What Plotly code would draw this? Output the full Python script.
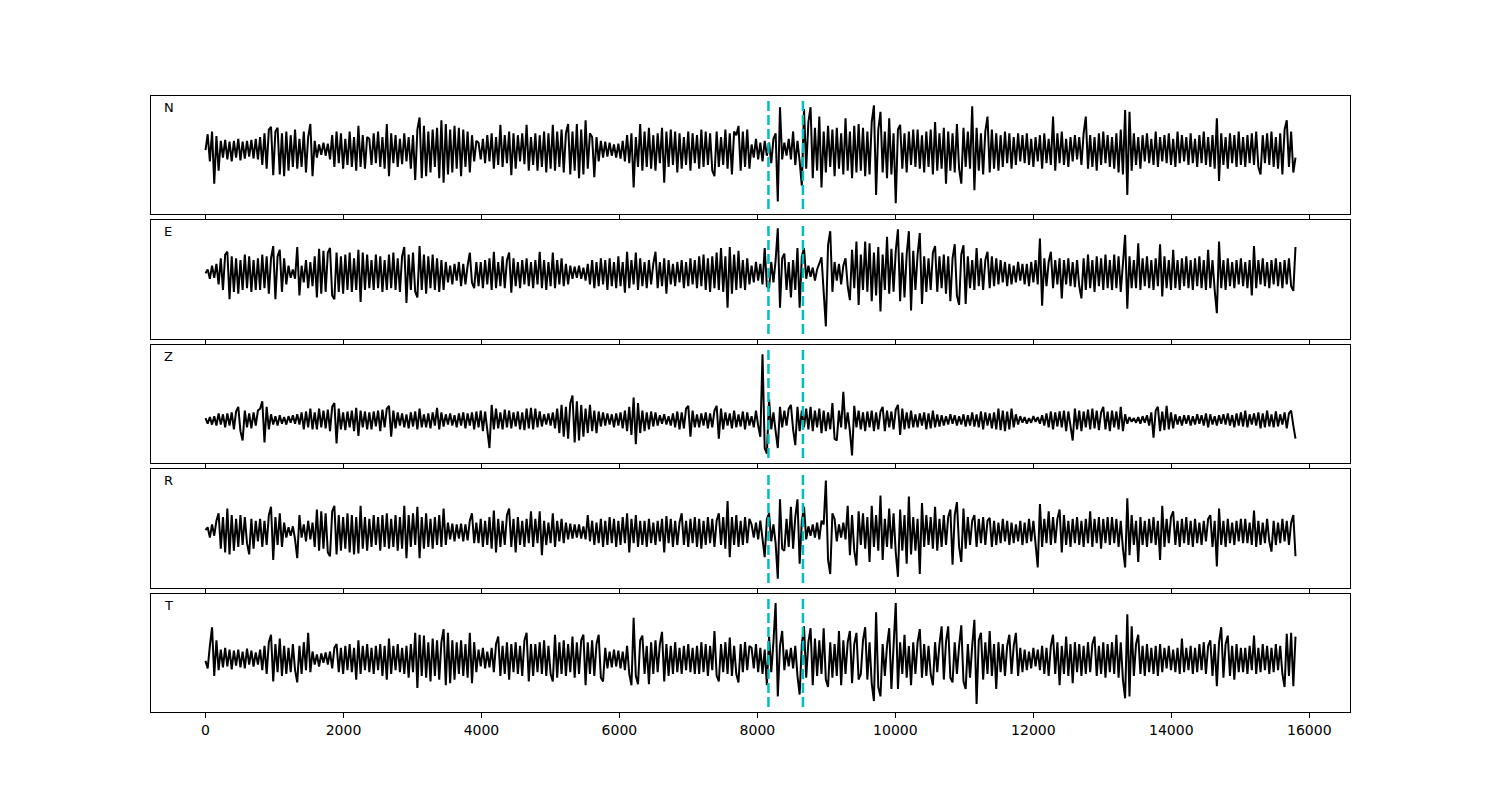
import numpy as np
import plotly.graph_objects as go

# ---------------- data ----------------
COMPONENTS = ["N", "E", "Z", "R", "T"]
T_END = 15800                     # last sample index of each trace
PICKS = [8160, 8660]              # the two dashed cyan markers
XTICKS = [0, 2000, 4000, 6000, 8000, 10000, 12000, 14000, 16000]

N_TRACE = [
    0, 17, -12, 20, -36, 15, -22, 10, -8, 11, -10, 9, -12, 10, -8, 12, -11, 9, -9, 10, -7, 11, -9, 12, -10,
    14, -16, 18, -20, 22, 25, -27, 20, 24, -26, 18, -28, 20, -22, 16, -18, 22, -20, 12, -18, 20, -24, 14, 28, -28,
    10, -8, 6, -5, 8, -6, 7, -10, 16, -18, 20, -14, 18, -20, 12, -16, 20, -18, 14, -22, 26, -18, 16, -20, 14,
    12, -16, 18, -14, 20, -18, 14, -20, 28, -28, 18, -14, 16, -18, 12, -15, 18, -12, 14, -20, 16, -32, 22, 35, -30,
    26, -28, 20, -24, 22, -18, 24, -30, 32, -35, 28, -26, 22, -24, 26, -20, 24, -28, 22, -18, 20, -24, 16, -12, 10,
    8, -10, 12, -14, 16, -12, 18, -20, 14, -16, 27, -18, 16, -14, 20, -27, 18, -20, 16, -12, 18, -15, 27, -22, 14,
    -16, 18, -22, 16, -18, 20, -24, 18, -20, 27, -22, 20, -18, 22, -24, 18, 28, -26, 20, -22, 28, -30, 22, -26, 32,
    -20, 18, 14, -29, 14, -12, 10, -8, 9, -7, 8, -6, 6, -8, 7, -9, 10, -12, 16, -14, 18, -40, 14, -18, 28,
    -22, 20, -18, 24, -20, 16, -22, 18, -14, 24, -35, 20, -18, 22, -16, 20, -24, 18, -20, 14, -16, 20, -22, 18, -14,
    16, -20, 22, -18, 20, -16, 18, -22, -28, 20, -18, 14, -16, 22, -20, 18, -26, 20, 16, 26, -22, 20, -18, 22, -20,
    6, -8, 12, -10, 8, -12, 10, -6, 8, -14, 12, 18, -55, 46, -10, 8, -6, 12, -10, 20, -16, 10, -12, -38, 44,
    -20, 30, 46, -30, 24, -22, 36, -40, 20, -24, 26, -18, 22, -28, 24, -20, 18, -26, 34, -22, 20, -30, 26, -24, 28,
    -22, 24, -28, 20, -26, 30, 48, -48, 22, 41, -24, 20, -30, 34, -26, 18, -57, 22, 27, -20, 18, -24, 20, -16, 22,
    -18, 22, -20, 16, -24, 20, -18, 22, -26, 30, -22, 18, -20, 24, -36, 20, -22, 18, -24, 28, -20, -36, 24, -18, 20,
    -20, 47, -43, 24, -22, 18, -26, 20, 36, -24, 22, -20, 18, -22, 16, -18, 20, -14, 18, -20, 14, -16, 18, -12, 16,
    -14, 18, -16, 12, -18, 14, -12, 16, -20, 18, -14, 12, -16, 36, -22, 18, -14, 20, -16, 12, -18, 14, -12, 16, -10,
    14, -16, 18, 36, -20, 16, -18, 14, -22, 18, -16, 20, -14, 16, -18, 14, -20, 18, -24, 22, -26, 43, -48, 41, -22,
    18, -16, 14, -20, 16, -12, 18, -14, 12, -16, 20, -18, 14, -12, 16, -14, 18, -16, 12, -18, 20, -14, 16, -12, 14,
    -16, 18, -14, 12, -18, 16, -14, 20, -16, 14, -18, 16, -20, 34, -33, 18, -16, 14, -20, 18, -14, 16, -18, 20, -16,
    14, -18, 16, -14, 18, -16, 20, -18, -26, 16, -14, 18, -16, 20, -18, 14, -20, 18, -26, 22, 32, -18, 20, -24, -8,
]

E_TRACE = [
    0, 4, -6, 8, -5, 10, -12, 16, -18, 20, 23, -28, 18, -20, 16, -22, 14, -18, 20, -16, 18, -20, 14, -18, 16,
    -18, 20, -16, 18, -22, 16, 29, -28, 18, 25, -20, 16, -12, 8, -5, 4, -6, 28, -24, 8, -10, 14, -16, 12, -14,
    18, -26, 26, -22, 24, -20, 22, 27, -24, -28, 22, -20, 18, -22, 20, -18, 22, -20, 16, -18, 25, -31, 22, -18, 20,
    -16, 14, -18, 20, -16, 18, -20, 14, -18, 20, -16, 22, -18, 16, -20, 18, 28, -32, 20, -18, 22, -20, -26, 29, -18,
    20, -22, 18, -16, 20, -18, 16, -20, 14, -18, 12, -10, 8, -12, 10, -8, 12, -14, 10, -12, 8, 22, -10, -16, 12,
    -14, 12, -16, 14, -12, 16, -18, 23, -16, 12, -14, 18, -16, 14, 22, -21, 16, -14, 12, -16, 14, -12, 16, -14, 12,
    -16, 14, -12, 23, -16, 14, -18, 12, -14, 22, -16, 14, -12, 16, -14, 10, -12, 8, -6, 7, -5, 8, -6, 6, -8,
    10, -12, 14, -16, 12, -14, 16, -12, 14, -18, 16, -14, 12, -16, 18, -14, 12, -21, 23, -16, 14, -12, 22, -18, 16,
    -14, 12, -16, 14, -12, 10, 23, -16, 12, -14, 16, -22, 14, -12, 10, -14, 12, -10, 14, -16, 12, -14, 16, -12, 14,
    -16, 18, -14, 20, -18, 16, -20, 18, -16, 22, -18, 27, -20, 18, -37, 28, -22, 20, -18, 24, -16, 14, -18, 16, -12,
    8, -10, 12, -8, 10, -12, 27, -14, -16, 12, -10, 14, 48, -37, 16, 21, -18, 12, -26, 14, -18, 27, -37, 18, 27,
    -6, 8, -4, 6, -8, 4, 10, 17, -20, -57, 30, 45, -20, 12, -8, 10, -12, 8, 16, -14, -29, 25, -16, 34, -34,
    20, -18, 34, -20, 32, -30, 22, -24, 28, -41, 20, -18, 39, -22, 26, -20, 24, 47, -30, 22, -26, 20, 45, -40, 24,
    -18, 20, 43, -33, 18, -20, 16, -18, 22, 29, -20, 18, -16, 20, -22, 18, -30, 16, 31, -24, -34, 20, 30, -33, 18,
    -16, 14, -18, 27, -14, 16, -18, 14, 23, -16, 18, -14, 16, -12, 14, -10, 12, -14, 10, -12, 8, -10, 12, -8, 10,
    -12, 10, -14, 12, -10, 14, -12, 37, -35, 16, -14, 12, 23, -16, 14, -12, 16, -27, 14, -12, 16, -14, 12, -15, 14,
    -14, -27, 16, -18, 20, -16, 14, -20, 18, -14, 16, -18, 20, -16, 14, -18, 20, -16, 18, -20, 16, 41, -38, 18, -16,
    14, -16, 32, -18, 16, -14, 18, -16, 14, -18, 16, -14, 31, -25, 18, -16, 14, -18, 25, -16, 14, -18, 16, -14, 18,
    -16, 14, -18, 16, -14, 18, -16, 14, -18, 25, -16, 14, -18, -43, 34, -16, 14, -18, 16, -14, 12, -16, 14, -12, 16,
    -14, 12, -16, 14, -24, 29, -16, 14, -12, 16, -14, 12, -16, 14, -12, 16, -14, 12, -16, 14, -12, 16, -14, -19, 28,
]

Z_TRACE = [
    2, -4, 3, -5, 4, -6, 7, -5, 6, -8, 7, -6, 8, -10, 9, 14, -12, -22, 10, -8, 7, -9, 8, -6, 10,
    12, 20, -24, 14, -10, 6, -5, 4, -6, 5, -4, 3, -5, 4, -3, 5, -4, 6, -5, 8, -10, 9, -8, 12, -10,
    8, -10, 12, -8, 10, -9, 11, -12, 14, 18, -25, 12, -10, 8, -11, 9, -8, 10, -12, 13, -17, 10, -8, 9, -10,
    8, -10, 9, -7, 10, -12, 11, -8, 12, 15, -18, 10, -9, 8, -6, 7, -8, 6, -9, 8, -7, 9, -10, 12, -8,
    6, -8, 7, -9, 8, -6, 13, -10, 8, -7, 6, -5, 7, -6, 5, -8, 7, -6, 8, -9, 7, -6, 8, -10, 9,
    -8, 10, -12, 9, -14, -30, 16, -10, 12, -9, 8, -10, 11, -8, 10, -9, 8, -7, 9, -10, 8, -11, 12, -9, 13,
    -10, 12, -8, 9, -7, 6, -5, 7, -6, 8, -9, 12, -14, 16, -18, 14, -20, 18, 26, -24, 20, -22, 16, -18, 12,
    -14, 16, -12, 10, -14, 9, -7, 8, -6, 7, -5, 6, -8, 7, -6, 8, -9, 10, -12, 14, -16, 24, -26, 18, -14,
    10, -12, 8, -10, 9, -7, 8, -6, 5, -4, 6, -5, 4, -6, 7, -8, 9, -10, 8, -9, 12, 15, -18, 10, -8,
    6, -8, 7, -6, 8, -9, 7, -8, 10, 15, -20, 12, -10, 8, -6, 7, -9, 10, -8, 6, -7, 9, -10, 8, -6,
    4, -8, 10, -6, -18, 70, -30, -36, 22, -10, 8, -12, -30, 14, -8, 10, -6, 12, 16, -10, -27, 14, -12, 10, -8,
    12, -10, 14, -12, 10, -8, 12, -14, 10, -12, 8, -10, 18, -20, -22, 10, -8, 30, -10, 8, -12, -38, 15, -8, 10,
    -10, 8, -12, 9, -8, 10, -12, 8, -10, 9, 14, -12, 10, -8, 9, -10, 11, 16, -16, 12, -10, 8, -9, 10, -8,
    6, -8, 7, -6, 8, -10, 7, -9, 10, -8, 6, -7, 5, -6, 4, -5, 6, -4, 5, -6, 4, -5, 6, -7, 5,
    -6, 8, -7, 6, -8, 9, -10, 8, -6, 7, -9, 8, -10, 12, -11, 10, -12, 9, -10, 12, -8, 6, -5, 4, -3,
    3, -4, 2, -3, 4, -2, 3, -4, 5, -6, 7, -8, 9, -10, 8, -7, 9, -8, 10, -12, 9, -8, -22, 12, -10,
    10, -12, 9, -8, 11, -10, 12, -9, 10, -11, 8, 14, -10, 9, -12, 10, -8, 9, -10, 14, -12, 6, -4, 3, -2,
    2, -3, 3, -4, 4, -3, 5, -6, 8, -19, 10, 14, -12, 9, -11, 15, -10, 8, -9, 6, -5, 4, -6, 5, -4,
    5, -6, 4, -5, 6, -4, 5, -6, 7, -8, 6, -5, 4, -6, 5, -4, 6, -5, 7, -6, 5, -8, 7, -6, 8,
    -7, 10, -8, 6, -5, 7, -6, 8, -9, 7, -8, 10, -7, 6, -8, 9, -7, 6, -5, 8, -9, 7, 10, -6, -20,
]

R_TRACE = [
    2, 5, -6, 8, -4, 12, 20, -18, 16, -22, 25, -24, 18, -20, 14, -16, 18, -14, 16, -12, -24, 14, -18, 12, -10,
    14, -16, 12, -14, 18, 27, -30, 16, -14, 20, -16, 10, -6, 5, -4, 6, -8, -28, 18, -6, 8, -10, 12, -8, 10,
    -16, 24, -20, 22, -18, 20, -22, -26, 22, 28, -24, 18, -20, 16, -18, 20, -22, 18, -24, 16, -23, 28, -18, 16, -20,
    14, -16, 18, -14, 16, -20, 18, -16, 20, -18, 14, -16, 18, -20, 16, -18, 28, -28, 18, -16, 20, -14, 27, -28, 16,
    -18, 20, -16, 14, -18, 16, -14, 18, -16, 25, -14, 10, -8, 9, -10, 8, -7, 9, -10, 8, -9, 12, 20, -12, 10,
    -12, 14, -16, 12, -14, 16, -18, 23, -22, 14, -16, 12, -14, 18, 25, -16, 14, -22, 16, -14, 12, -16, 14, -12, 22,
    -16, 14, -12, 22, -25, 12, -14, 10, -12, 20, -16, 12, -10, 14, -12, 10, -8, 9, -7, 8, -6, 8, -7, 6, -8,
    18, -10, 12, -14, 10, -12, 14, -16, 12, -14, 16, -12, 14, -16, 12, -14, 16, -12, 20, -22, 14, -12, 18, -16, 12,
    -14, 12, -16, 14, -12, 10, -14, 12, -10, 14, -22, 17, -12, 14, -16, 12, -14, 10, 20, -14, 12, -16, 14, -12, 16,
    -16, 14, -18, 12, -14, 16, -12, 14, -16, 12, 20, -14, 16, -18, 33, -27, 16, -14, 18, -16, 12, -14, 16, -12, 14,
    8, -6, 10, -8, 12, -10, -27, 14, 20, -10, 8, -12, -50, 35, -18, -20, 14, -16, 27, -18, 16, 35, -34, 12, 27,
    -8, 6, -4, 8, -6, 10, -8, 12, 8, 55, -30, -45, 20, 14, -10, 8, -6, 10, -8, 28, -25, 18, -20, -36, 22,
    -14, 20, -18, 16, -32, 28, -16, 18, -20, 39, -30, 14, -16, 25, -18, 20, -22, -48, 24, -20, 18, -34, 38, -24, 16,
    -20, 14, -45, 31, -16, 18, -14, 16, -18, 27, -20, 14, -16, 18, -14, 16, 24, -35, 18, 32, -16, -32, 25, -18, 16,
    -14, 12, 18, -16, 14, -12, 16, -14, 12, 15, -16, 12, -14, 10, -12, 14, -10, 12, -14, 10, -12, 8, -10, 12, -14,
    10, -12, 14, -10, 12, -14, -38, 30, -16, 14, -12, 22, -14, 16, -12, 14, 24, -22, 18, -14, 12, -16, 14, -12, 16,
    -14, 12, -16, 14, -12, 22, -16, 14, -12, 16, -18, 14, -12, 16, -14, 16, -12, 14, -16, 12, -18, -38, 36, -25, 18,
    -14, 12, -32, 16, -14, 12, -16, 14, -12, 16, -14, 12, -30, 28, -16, 14, -12, 16, 22, -14, 12, -16, 14, -12, 16,
    -14, 12, -16, 14, -12, 10, -14, 12, -10, 14, 18, -16, 12, -37, 25, -14, 12, -16, 14, -12, 10, -14, 12, -10, 14,
    -12, 14, -12, 10, -14, 23, -16, 12, -14, 10, -12, 14, -10, -21, 12, -14, 10, -12, 14, -10, 12, -14, 10, 18, -26,
]

T_TRACE = [
    -2, -10, 14, 34, -18, 20, -12, 10, -9, 12, -8, 10, -11, 9, -7, 10, -9, 8, -10, 11, -6, 9, -8, 7, -6,
    10, -12, 14, -16, 18, 26, -24, 16, -14, 22, -18, 14, -16, 12, -14, 16, -12, -25, 14, -16, 18, -12, 28, -14, 8,
    -6, 5, -8, 6, -4, 7, -6, 8, -10, 12, 16, -14, 12, -16, 14, -12, 16, -14, 12, -22, 20, -16, 14, -12, 16,
    -14, 12, -16, 14, -12, 16, -18, 14, -22, 22, -16, 14, -12, 16, -14, 12, -16, 14, -20, 16, -14, 28, -31, 26, -18,
    25, -20, 18, -24, 22, -18, 20, -22, 18, 32, -28, 28, -26, 20, -22, 18, -16, 20, -18, 16, -20, 28, -26, 18, -14,
    10, -8, 12, -10, 8, -9, 12, -14, 16, 24, -18, 14, -16, 18, -22, 16, -14, 18, -16, 14, -18, 20, 28, -24, 16,
    -18, 16, -14, 18, -16, 20, -18, 14, -16, -24, 26, -20, 18, -16, 20, -18, 16, -14, 24, -20, 18, -16, 20, 26, -28,
    18, -16, 20, -18, 16, 26, -20, -24, 12, -10, 8, -9, 10, -8, 9, -10, 8, -12, 14, -16, -28, 44, -18, -27, 20,
    25, -16, 14, -27, 18, -16, 20, -14, 16, 29, -24, 16, -18, 14, -16, 18, -14, 12, -16, 14, -12, 16, -14, 12, -16,
    14, -16, 18, -14, 16, -18, 14, -12, 30, -18, -24, 16, -14, 18, -16, 23, -18, 14, -16, -25, 16, -14, 18, -12, 14,
    12, -10, 16, -14, 12, -16, 10, -28, 24, -14, 18, 60, -40, 14, 30, -12, 10, -8, 12, -10, 14, -18, -38, 16, 35,
    -20, 18, 33, -28, 22, -18, 20, -16, 33, -22, -30, 18, -20, 16, -18, 30, -28, 20, -16, 18, 30, -26, 16, 28, -22,
    -16, 20, 34, -22, 18, -26, -45, 50, -30, -40, 16, -18, 14, 33, -32, 20, 60, -32, 18, -16, 26, -20, 14, -28, 18,
    -16, 18, 32, -20, 16, -18, 14, -16, -28, 18, -14, 16, 35, -22, 18, 35, -20, -25, 18, -16, 14, 36, -24, -32, 16,
    -20, 14, 42, -48, 20, 28, -22, 18, -16, 30, -18, 16, -32, 18, -14, 16, -18, 14, 26, -16, 14, 28, -18, 12, -14,
    10, -12, 8, -10, 12, -8, 10, -12, 14, -16, 12, -18, 14, 26, -16, 18, -28, 14, -16, 24, -18, 16, -26, 18, -14,
    16, -18, 14, -16, 18, -14, 16, 24, -18, 14, -16, 18, -20, 16, -14, 18, -16, 26, -20, 18, -22, -42, 48, -40, 35,
    -18, 16, 26, -16, 14, -18, 16, -14, 12, -16, 14, -18, 16, -14, 12, -10, 14, -12, 10, -14, 12, -16, 22, -14, 12,
    -12, 14, -16, 12, -14, 16, -12, 18, -16, 14, 20, -18, 16, -29, 18, 34, -20, 16, 25, -18, 14, -22, 16, -14, 12,
    -14, 12, -16, 14, -12, 25, -16, 12, -14, 16, -12, 14, -16, 12, -14, 16, -12, 14, -16, -30, 27, -18, 28, -29, 24,
]

TRACES = [N_TRACE, E_TRACE, Z_TRACE, R_TRACE, T_TRACE]

# ---------------- layout settings ----------------
DOMAINS = [(0.8084, 1.0), (0.6055, 0.7987), (0.4042, 0.5958), (0.2013, 0.3945), (0.0, 0.1916)]
Y_RANGES = [(-68.5, 58), (-70.6, 57), (-46, 80), (-60, 67.4), (-56.7, 69.6)]
X_RANGE = (-790, 16590)
FONT = "DejaVu Sans"

fig = go.Figure()
shapes = []
annotations = []
layout_axes = {}

for k, (name, vals) in enumerate(zip(COMPONENTS, TRACES)):
    idx = "" if k == 0 else str(k + 1)
    xa, ya = "x" + idx, "y" + idx
    x = np.linspace(0, T_END, len(vals))
    fig.add_trace(go.Scatter(
        x=x, y=vals, mode="lines",
        line=dict(color="black", width=2),
        xaxis=xa, yaxis=ya, showlegend=False, hoverinfo="skip",
    ))
    layout_axes["xaxis" + idx] = dict(
        domain=[0, 1], anchor=ya, range=list(X_RANGE),
        tickvals=XTICKS, ticktext=[str(t) for t in XTICKS],
        showticklabels=(k == len(COMPONENTS) - 1),
        ticks="outside", ticklen=5, tickwidth=1, tickcolor="black",
        showline=True, mirror=True, linecolor="black", linewidth=1,
        showgrid=False, zeroline=False,
        tickfont=dict(family=FONT, size=14, color="black"),
        **({} if k == 0 else {"matches": "x"}),
    )
    layout_axes["yaxis" + idx] = dict(
        domain=list(DOMAINS[k]), anchor=xa, range=list(Y_RANGES[k]),
        showticklabels=False, ticks="",
        showline=True, mirror=True, linecolor="black", linewidth=1,
        showgrid=False, zeroline=False,
    )
    for p in PICKS:
        shapes.append(dict(
            type="line", xref=xa, yref=ya + " domain",
            x0=p, x1=p, y0=0.042, y1=0.958,
            line=dict(color="#00bfbf", width=2.5, dash="10px,4px"),
        ))
    annotations.append(dict(
        text=name, xref=xa + " domain", yref=ya + " domain",
        x=0.0092, y=0.9, xanchor="left", yanchor="middle",
        showarrow=False, font=dict(family=FONT, size=13, color="black"),
    ))

fig.update_layout(
    width=1500, height=800,
    margin=dict(l=143, r=158, t=88, b=96),
    paper_bgcolor="white", plot_bgcolor="white",
    shapes=shapes, annotations=annotations,
    font=dict(family=FONT, color="black"),
    **layout_axes,
)

fig.write_html("out.html")
